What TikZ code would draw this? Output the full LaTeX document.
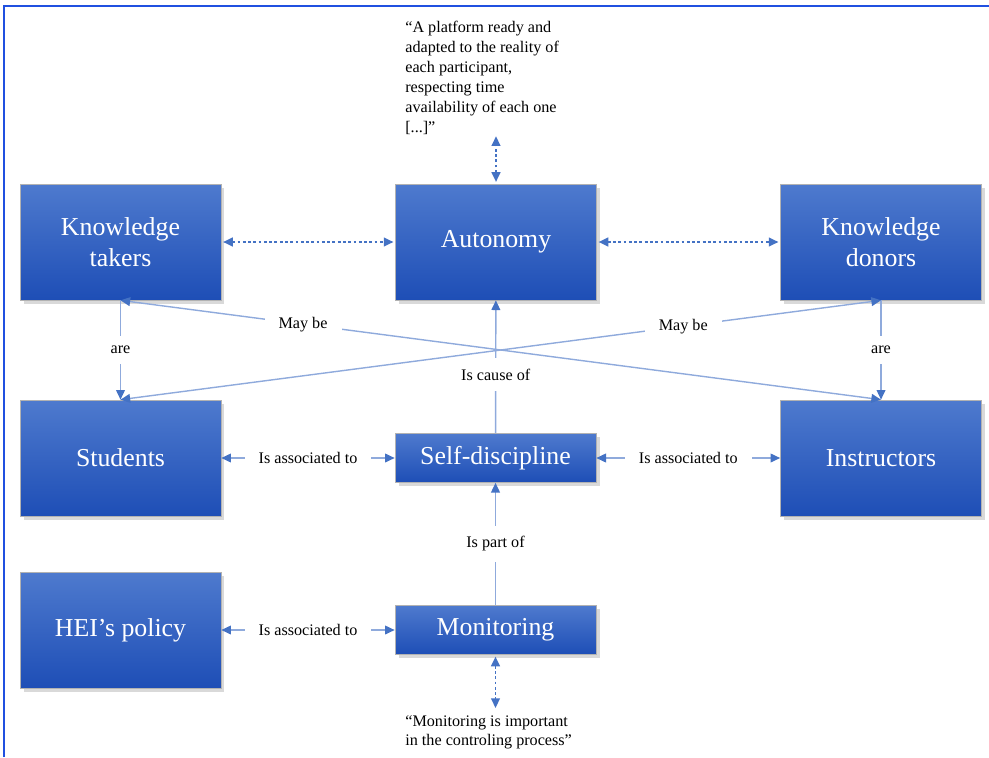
\documentclass[tikz,border=0pt]{standalone}
\usepackage{fontspec}
\setmainfont{LiberationSerif}[Extension=.ttf, UprightFont=*-Regular, BoldFont=*-Bold]
\usepackage{xcolor}
\usepackage{tikz}
\usetikzlibrary{shapes,arrows.meta,positioning,calc,shadows}

\definecolor{boxtop}{RGB}{78,122,206}
\definecolor{boxbot}{RGB}{30,78,182}
\definecolor{linkblue}{RGB}{143,170,220}
\definecolor{tipblue}{RGB}{68,114,196}
\definecolor{frameblue}{RGB}{32,80,224}

\begin{document}
\begin{tikzpicture}[x=0.02cm, y=-0.02cm,
    >={Triangle[length=5.5pt,width=5pt,color=tipblue]},
    concept/.style={draw=gray!60, top color=boxtop, bottom color=boxbot, text=white,
        font=\fontsize{14.7}{17.6}\selectfont, align=center, inner sep=0pt,
        minimum width=4.02cm, drop shadow={shadow xshift=2pt, shadow yshift=-2pt, opacity=0.3}},
    bigbox/.style={concept, minimum height=2.32cm},
    smallbox/.style={concept, minimum height=0.98cm},
    link/.style={draw=linkblue, line width=0.8pt},
    dots/.style={draw=tipblue, dash pattern=on 1.6pt off 1.4pt, line width=1pt, <->, shorten <=1pt, shorten >=1pt},
    lbl/.style={fill=white, font=\fontsize{9.2}{11.3}\selectfont, inner xsep=8pt, inner ysep=6pt},
    quote/.style={font=\fontsize{9.2}{11.3}\selectfont, align=left, inner sep=0pt, anchor=north west}]

    % Frame
    \useasboundingbox (0,0) rectangle (989,757);
    \draw[frameblue, line width=1.1pt] (4,757) -- (4,6) -- (989,6);

    % Concepts
    \node[bigbox] (takers) at (120.5,242) {Knowledge\\takers};
    \node[bigbox] (autonomy) at (496,242) {Autonomy};
    \node[bigbox] (donors) at (881,242) {Knowledge\\donors};
    \node[bigbox] (students) at (120.5,458) {Students};
    \node[smallbox] (selfdisc) at (495.5,458) {Self-discipline};
    \node[bigbox] (instructors) at (881,458) {Instructors};
    \node[bigbox] (policy) at (120.5,630) {HEI’s policy};
    \node[smallbox] (monitoring) at (495.5,630) {Monitoring};

    % Quotes
    \node[quote] (quotetop) at (405,21) {“A platform ready and\\adapted to the reality of\\each participant,\\respecting time\\availability of each one\\{}[...]”};
    \node[quote] (quotebot) at (405,715) {“Monitoring is important\\in the controling process”};

    % Links
    \draw[link,->] (takers) -- node[lbl] {are} (students);
    \draw[link,->] (donors) -- node[lbl] {are} (instructors);
    \draw[link,<->] (takers.south) -- node[lbl,pos=0.24] {May be} (instructors.north);
    \draw[link,<->] (students.north) -- node[lbl,pos=0.74] {May be} (donors.south);
    \draw[link,->] (selfdisc) -- node[lbl,pos=0.44] {Is cause of} (autonomy);
    \draw[link,->] (monitoring) -- node[lbl] {Is part of} (selfdisc);
    \draw[link,<->] (students) -- node[lbl] {Is associated to} (selfdisc);
    \draw[link,<->] (selfdisc) -- node[lbl] {Is associated to} (instructors);
    \draw[link,<->] (policy) -- node[lbl] {Is associated to} (monitoring);

    % Quote links
    \draw[dots] (takers) -- (autonomy);
    \draw[dots] (autonomy) -- (donors);
    \draw[dots] (autonomy.north) -- (quotetop.south -| autonomy.north);
    \draw[dots] (monitoring.south) -- ([yshift=3pt]quotebot.north -| monitoring.south);
\end{tikzpicture}
\end{document}
